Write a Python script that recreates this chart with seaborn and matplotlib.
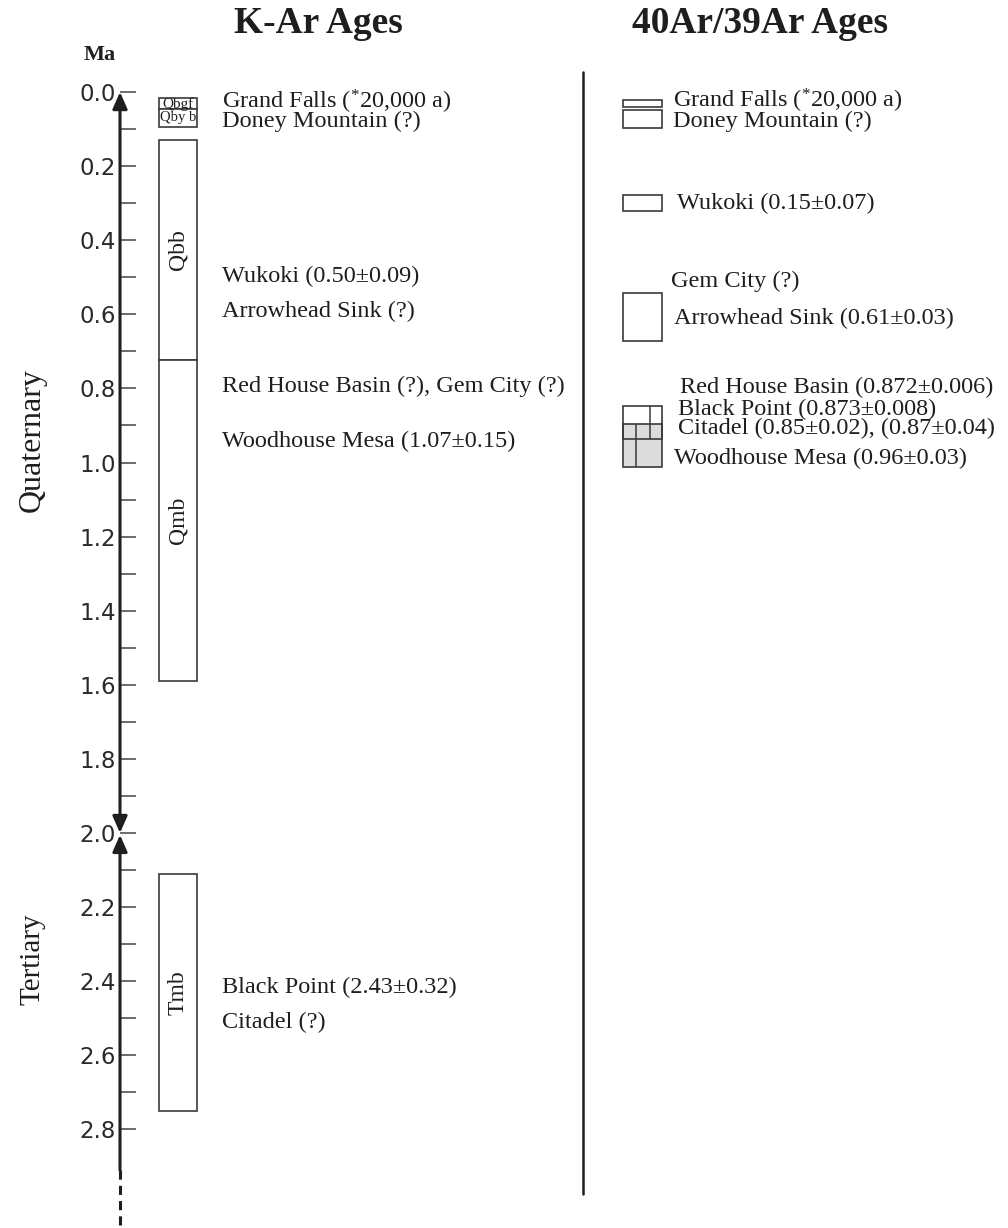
import matplotlib
matplotlib.use("Agg")
import matplotlib.pyplot as plt
import seaborn as sns
import pandas as pd

# K-Ar column: map units, top and base of each box (Ma)
kar_units = ['Qbgf', 'Qby b', 'Qbb', 'Qmb', 'Tmb']
kar_top = [0.017, 0.046, 0.13, 0.723, 2.11]
kar_base = [0.046, 0.094, 0.723, 1.59, 2.75]

kar_names = ['Grand Falls ($^{*}$20,000 a)', 'Doney Mountain (?)',
             'Wukoki (0.50\u00b10.09)', 'Arrowhead Sink (?)',
             'Red House Basin (?), Gem City (?)', 'Woodhouse Mesa (1.07\u00b10.15)',
             'Black Point (2.43\u00b10.32)', 'Citadel (?)']
kar_name_age = [0.028, 0.079, 0.497, 0.591, 0.794, 0.942, 2.418, 2.51]

# 40Ar/39Ar column
ar_top = [0.022, 0.049, 0.278, 0.542, 0.897, 0.847]
ar_base = [0.040, 0.098, 0.322, 0.671, 1.011, 0.937]
ar_fill = ['white', 'white', 'white', 'white', '#dcdcdc', 'none']

ar_names = ['Grand Falls ($^{*}$20,000 a)', 'Doney Mountain (?)',
            'Wukoki (0.15\u00b10.07)', 'Gem City (?)',
            'Arrowhead Sink (0.61\u00b10.03)', 'Red House Basin (0.872\u00b10.006)',
            'Black Point (0.873\u00b10.008)', 'Citadel (0.85\u00b10.02), (0.87\u00b10.04)',
            'Woodhouse Mesa (0.96\u00b10.03)']
ar_name_age = [0.025, 0.080, 0.302, 0.51, 0.61, 0.797, 0.857, 0.909, 0.988]

major_ticks = [0.0, 0.2, 0.4, 0.6, 0.8, 1.0, 1.2, 1.4, 1.6, 1.8, 2.0, 2.2, 2.4, 2.6, 2.8]
minor_ticks = [0.1, 0.3, 0.5, 0.7, 0.9, 1.1, 1.3, 1.5, 1.7, 1.9, 2.1, 2.3, 2.5, 2.7]
tick_labels = ['0.0', '0.2', '0.4', '0.6', '0.8', '1.0', '1.2', '1.4', '1.6', '1.8',
               '2.0', '2.2', '2.4', '2.6', '2.8']

kar = pd.DataFrame({'unit': kar_units, 'top': kar_top, 'base': kar_base})
ar = pd.DataFrame({'top': ar_top, 'base': ar_base, 'fill': ar_fill})

sns.set_theme(style="white")
plt.rcParams['font.family'] = ['Liberation Serif', 'DejaVu Serif']
plt.rcParams['mathtext.fontset'] = 'custom'
plt.rcParams['mathtext.rm'] = 'Liberation Serif'
plt.rcParams['mathtext.it'] = 'Liberation Serif:italic'

ink = '#1e1e1e'
edge = '#3a3a3a'

fig = plt.figure(figsize=(10.08, 12.28), dpi=100)
ax = fig.add_axes([120 / 1008, 0, 888 / 1008, 1])
ax.set_xlim(120, 1008)
ax.set_ylim(3.066, -0.2483)
sns.despine(ax=ax, left=True, bottom=True)
ax.set_facecolor('white')

# time axis
ax.set_yticks(major_ticks)
ax.set_yticks(minor_ticks, minor=True)
ax.set_yticklabels(tick_labels, family='DejaVu Sans', fontsize=16.5, color='#2a2a2a')
ax.tick_params(axis='y', which='both', direction='in', length=11.5, width=1.1,
               color='#444444', pad=3, left=True)
ax.set_xticks([])
ax.grid(False)

arrow = 'head_length=0.5,head_width=0.22'
ax.annotate('', xy=(120, 0.0), xytext=(120, 2.0),
            arrowprops=dict(arrowstyle='<|-|>,' + arrow, lw=2.2, color=ink,
                            mutation_scale=20, shrinkA=0, shrinkB=0))
ax.annotate('', xy=(120, 2.005), xytext=(120, 2.91),
            arrowprops=dict(arrowstyle='-|>,' + arrow, lw=2.2, color=ink,
                            mutation_scale=20, shrinkA=0, shrinkB=0))
ax.plot([120, 120], [2.91, 3.07], color=ink, lw=2.2, ls=(0, (3, 2)), clip_on=False)

ax.text(100, -0.1, 'Ma', ha='center', va='center', fontsize=16, fontweight='bold',
        color=ink)
ax.text(32, 0.94, 'Quaternary', rotation=90, ha='center', va='center', fontsize=23,
        color=ink)
ax.text(32, 2.34, 'Tertiary', rotation=90, ha='center', va='center', fontsize=21,
        color=ink)

# titles
ax.text(318, -0.185, 'K-Ar Ages', ha='center', va='center', fontsize=27,
        fontweight='bold', color=ink)
ax.text(760, -0.185, '40Ar/39Ar Ages', ha='center', va='center', fontsize=27,
        fontweight='bold', color=ink)

# K-Ar boxes
ax.bar(178, kar['base'] - kar['top'], bottom=kar['top'], width=38, color='white',
       edgecolor=edge, linewidth=1.2)
unit_size = [11, 10.5, 17, 17, 17]
for u, t, b, s in zip(kar['unit'], kar['top'], kar['base'], unit_size):
    rot = 0 if s < 12 else 90
    ax.text(178, (t + b) / 2, u, rotation=rot, ha='center',
            va='center', fontsize=s, color=ink)
for name, age in zip(kar_names, kar_name_age):
    ax.text(222, age, name, ha='left', va='center', fontsize=17.5, color=ink)

# divider
ax.plot([583, 583], [-0.054, 2.974], color=ink, lw=1.8)

# 40Ar/39Ar boxes
for t, b, f in zip(ar['top'], ar['base'], ar['fill']):
    ax.bar(623, b - t, bottom=t, width=39, align='edge', color=f,
           fill=f != 'none', edgecolor=edge, linewidth=1.2)
ax.vlines(650, ar_top[5], ar_base[5], color=edge, lw=1.1)
ax.vlines(636, ar_top[4], ar_base[4], color=edge, lw=1.1)
ar_x = [673, 673, 677, 671, 674, 680, 678, 678, 674]
for name, age, x in zip(ar_names, ar_name_age, ar_x):
    ax.text(x, age, name, ha='left', va='center', fontsize=17.5, color=ink)

fig.savefig('out.png', dpi=100, facecolor='white')
